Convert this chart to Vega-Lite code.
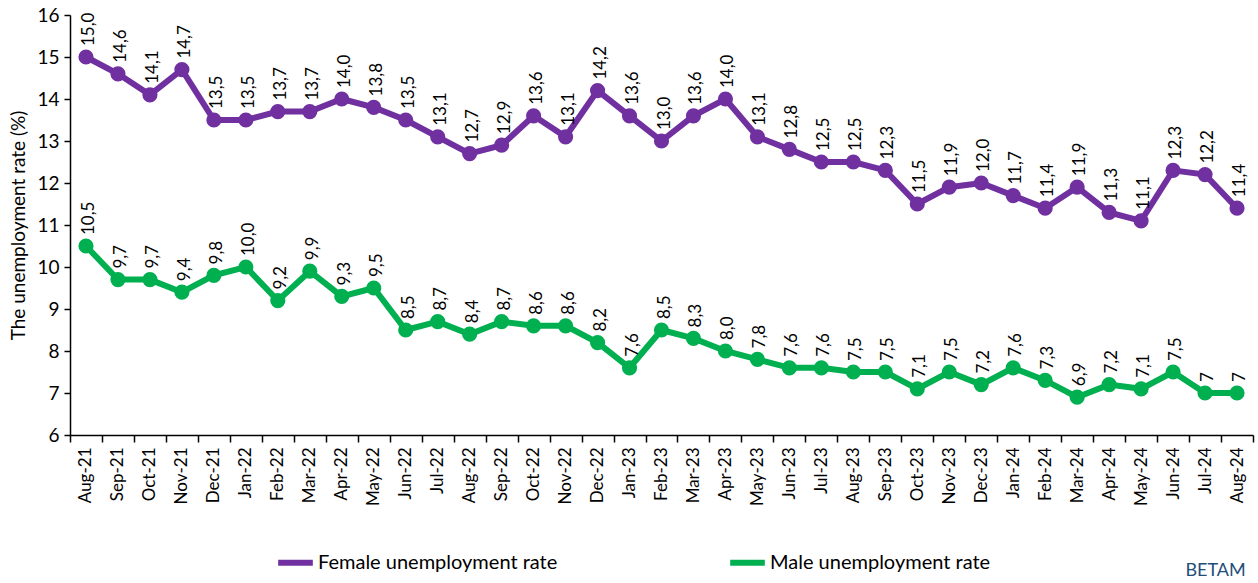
{
  "$schema": "https://vega.github.io/schema/vega-lite/v6.json",
  "width": 1183,
  "height": 420,
  "autosize": {"type": "none"},
  "padding": {"left": 70, "top": 15, "right": 5, "bottom": 148},
  "background": "white",
  "config": {
    "font": "Lato",
    "view": {"stroke": null},
    "axis": {"labelFont": "Lato", "titleFont": "Lato", "labelColor": "#000", "titleColor": "#000", "domainColor": "#000", "tickColor": "#000", "grid": false, "domainWidth": 1.5, "tickWidth": 1.5}
  },
  "title": {"text": "BETAM", "orient": "bottom", "anchor": "end", "color": "#1F4E79", "fontSize": 18, "font": "Lato", "fontWeight": "normal", "offset": 0, "dx": -8, "dy": -13},
  "data": {"values": [
    {"month":"Aug-21","series":"Female unemployment rate","value":15.0,"label":"15,0"},
    {"month":"Sep-21","series":"Female unemployment rate","value":14.6,"label":"14,6"},
    {"month":"Oct-21","series":"Female unemployment rate","value":14.1,"label":"14,1"},
    {"month":"Nov-21","series":"Female unemployment rate","value":14.7,"label":"14,7"},
    {"month":"Dec-21","series":"Female unemployment rate","value":13.5,"label":"13,5"},
    {"month":"Jan-22","series":"Female unemployment rate","value":13.5,"label":"13,5"},
    {"month":"Feb-22","series":"Female unemployment rate","value":13.7,"label":"13,7"},
    {"month":"Mar-22","series":"Female unemployment rate","value":13.7,"label":"13,7"},
    {"month":"Apr-22","series":"Female unemployment rate","value":14.0,"label":"14,0"},
    {"month":"May-22","series":"Female unemployment rate","value":13.8,"label":"13,8"},
    {"month":"Jun-22","series":"Female unemployment rate","value":13.5,"label":"13,5"},
    {"month":"Jul-22","series":"Female unemployment rate","value":13.1,"label":"13,1"},
    {"month":"Aug-22","series":"Female unemployment rate","value":12.7,"label":"12,7"},
    {"month":"Sep-22","series":"Female unemployment rate","value":12.9,"label":"12,9"},
    {"month":"Oct-22","series":"Female unemployment rate","value":13.6,"label":"13,6"},
    {"month":"Nov-22","series":"Female unemployment rate","value":13.1,"label":"13,1"},
    {"month":"Dec-22","series":"Female unemployment rate","value":14.2,"label":"14,2"},
    {"month":"Jan-23","series":"Female unemployment rate","value":13.6,"label":"13,6"},
    {"month":"Feb-23","series":"Female unemployment rate","value":13.0,"label":"13,0"},
    {"month":"Mar-23","series":"Female unemployment rate","value":13.6,"label":"13,6"},
    {"month":"Apr-23","series":"Female unemployment rate","value":14.0,"label":"14,0"},
    {"month":"May-23","series":"Female unemployment rate","value":13.1,"label":"13,1"},
    {"month":"Jun-23","series":"Female unemployment rate","value":12.8,"label":"12,8"},
    {"month":"Jul-23","series":"Female unemployment rate","value":12.5,"label":"12,5"},
    {"month":"Aug-23","series":"Female unemployment rate","value":12.5,"label":"12,5"},
    {"month":"Sep-23","series":"Female unemployment rate","value":12.3,"label":"12,3"},
    {"month":"Oct-23","series":"Female unemployment rate","value":11.5,"label":"11,5"},
    {"month":"Nov-23","series":"Female unemployment rate","value":11.9,"label":"11,9"},
    {"month":"Dec-23","series":"Female unemployment rate","value":12.0,"label":"12,0"},
    {"month":"Jan-24","series":"Female unemployment rate","value":11.7,"label":"11,7"},
    {"month":"Feb-24","series":"Female unemployment rate","value":11.4,"label":"11,4"},
    {"month":"Mar-24","series":"Female unemployment rate","value":11.9,"label":"11,9"},
    {"month":"Apr-24","series":"Female unemployment rate","value":11.3,"label":"11,3"},
    {"month":"May-24","series":"Female unemployment rate","value":11.1,"label":"11,1"},
    {"month":"Jun-24","series":"Female unemployment rate","value":12.3,"label":"12,3"},
    {"month":"Jul-24","series":"Female unemployment rate","value":12.2,"label":"12,2"},
    {"month":"Aug-24","series":"Female unemployment rate","value":11.4,"label":"11,4"},
    {"month":"Aug-21","series":"Male unemployment rate","value":10.5,"label":"10,5"},
    {"month":"Sep-21","series":"Male unemployment rate","value":9.7,"label":"9,7"},
    {"month":"Oct-21","series":"Male unemployment rate","value":9.7,"label":"9,7"},
    {"month":"Nov-21","series":"Male unemployment rate","value":9.4,"label":"9,4"},
    {"month":"Dec-21","series":"Male unemployment rate","value":9.8,"label":"9,8"},
    {"month":"Jan-22","series":"Male unemployment rate","value":10.0,"label":"10,0"},
    {"month":"Feb-22","series":"Male unemployment rate","value":9.2,"label":"9,2"},
    {"month":"Mar-22","series":"Male unemployment rate","value":9.9,"label":"9,9"},
    {"month":"Apr-22","series":"Male unemployment rate","value":9.3,"label":"9,3"},
    {"month":"May-22","series":"Male unemployment rate","value":9.5,"label":"9,5"},
    {"month":"Jun-22","series":"Male unemployment rate","value":8.5,"label":"8,5"},
    {"month":"Jul-22","series":"Male unemployment rate","value":8.7,"label":"8,7"},
    {"month":"Aug-22","series":"Male unemployment rate","value":8.4,"label":"8,4"},
    {"month":"Sep-22","series":"Male unemployment rate","value":8.7,"label":"8,7"},
    {"month":"Oct-22","series":"Male unemployment rate","value":8.6,"label":"8,6"},
    {"month":"Nov-22","series":"Male unemployment rate","value":8.6,"label":"8,6"},
    {"month":"Dec-22","series":"Male unemployment rate","value":8.2,"label":"8,2"},
    {"month":"Jan-23","series":"Male unemployment rate","value":7.6,"label":"7,6"},
    {"month":"Feb-23","series":"Male unemployment rate","value":8.5,"label":"8,5"},
    {"month":"Mar-23","series":"Male unemployment rate","value":8.3,"label":"8,3"},
    {"month":"Apr-23","series":"Male unemployment rate","value":8.0,"label":"8,0"},
    {"month":"May-23","series":"Male unemployment rate","value":7.8,"label":"7,8"},
    {"month":"Jun-23","series":"Male unemployment rate","value":7.6,"label":"7,6"},
    {"month":"Jul-23","series":"Male unemployment rate","value":7.6,"label":"7,6"},
    {"month":"Aug-23","series":"Male unemployment rate","value":7.5,"label":"7,5"},
    {"month":"Sep-23","series":"Male unemployment rate","value":7.5,"label":"7,5"},
    {"month":"Oct-23","series":"Male unemployment rate","value":7.1,"label":"7,1"},
    {"month":"Nov-23","series":"Male unemployment rate","value":7.5,"label":"7,5"},
    {"month":"Dec-23","series":"Male unemployment rate","value":7.2,"label":"7,2"},
    {"month":"Jan-24","series":"Male unemployment rate","value":7.6,"label":"7,6"},
    {"month":"Feb-24","series":"Male unemployment rate","value":7.3,"label":"7,3"},
    {"month":"Mar-24","series":"Male unemployment rate","value":6.9,"label":"6,9"},
    {"month":"Apr-24","series":"Male unemployment rate","value":7.2,"label":"7,2"},
    {"month":"May-24","series":"Male unemployment rate","value":7.1,"label":"7,1"},
    {"month":"Jun-24","series":"Male unemployment rate","value":7.5,"label":"7,5"},
    {"month":"Jul-24","series":"Male unemployment rate","value":7.0,"label":"7"},
    {"month":"Aug-24","series":"Male unemployment rate","value":7.0,"label":"7"}
  ]},
  "encoding": {
    "x": {
      "field": "month", "type": "nominal", "sort": null,
      "scale": {"type": "band", "paddingInner": 0, "paddingOuter": 0},
      "axis": {"title": null, "labelAngle": -90, "labelAlign": "right", "labelBaseline": "middle", "labelFontSize": 17, "labelPadding": 5, "tickSize": 7, "tickBand": "extent", "labelOverlap": false}
    },
    "y": {
      "field": "value", "type": "quantitative",
      "scale": {"domain": [6, 16], "nice": false, "zero": false},
      "axis": {"title": "The unemployment rate (%)", "titleFontSize": 19, "titleFontWeight": "normal", "titleX": -52, "titleY": 210, "titleAngle": -90, "titleAlign": "center", "titleBaseline": "middle", "labelFontSize": 19, "labelPadding": 5, "tickSize": 6, "values": [6,7,8,9,10,11,12,13,14,15,16], "labelOverlap": false}
    },
    "color": {
      "field": "series", "type": "nominal",
      "scale": {"domain": ["Female unemployment rate", "Male unemployment rate"], "range": ["#7030A0", "#00B050"]},
      "legend": {"title": null, "orient": "none", "direction": "horizontal", "legendX": 205, "legendY": 527, "symbolType": "stroke", "symbolStrokeWidth": 6, "symbolSize": 1200, "labelFontSize": 20, "labelFont": "Lato", "labelColor": "#000", "labelLimit": 400, "columnPadding": 160, "labelOffset": 2}
    }
  },
  "layer": [
    {"mark": {"type": "line", "strokeWidth": 6}},
    {"mark": {"type": "circle", "size": 230, "opacity": 1}},
    {"mark": {"type": "text", "angle": -90, "align": "left", "baseline": "middle", "dx": 11, "dy": 3, "fontSize": 17, "color": "#000"}, "encoding": {"text": {"field": "label"}, "color": {"value": "#000"}}}
  ]
}
